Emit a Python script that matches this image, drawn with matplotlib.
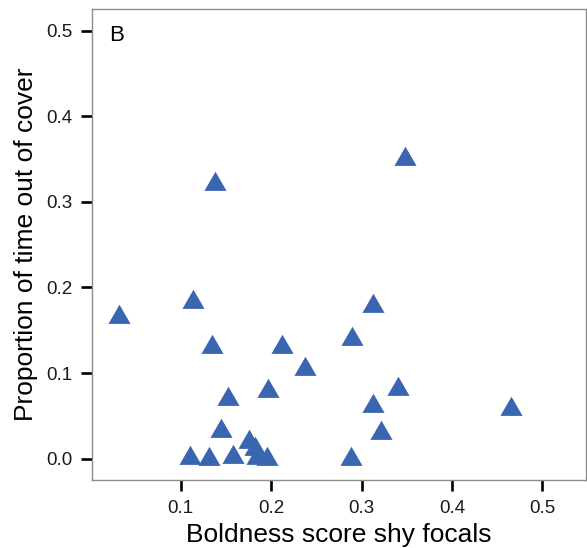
"""
Boldness score of shy focals vs proportion of time out of cover (panel B)
"""

import matplotlib.pyplot as plt
from matplotlib.path import Path

plt.rcParams['font.family'] = ['Liberation Sans', 'DejaVu Sans']

# data (centroid of each triangle)
boldness = [0.032, 0.114, 0.135, 0.152, 0.197, 0.145, 0.176, 0.182,
            0.110, 0.131, 0.158, 0.184, 0.196, 0.212, 0.237, 0.313,
            0.290, 0.340, 0.313, 0.321, 0.288, 0.465, 0.138, 0.348]
time_out = [0.166, 0.183, 0.131, 0.070, 0.079, 0.032, 0.019, 0.011,
            0.001, 0.000, 0.002, 0.001, 0.000, 0.131, 0.105, 0.178,
            0.140, 0.081, 0.062, 0.030, 0.000, 0.058, 0.321, 0.350]

x_ticks = [0.1, 0.2, 0.3, 0.4, 0.5]
y_ticks = [0.0, 0.1, 0.2, 0.3, 0.4, 0.5]

# R-style filled triangle, centred on its centroid
triangle = Path([(0, 1), (-0.866, -0.5), (0.866, -0.5), (0, 1)],
                [Path.MOVETO, Path.LINETO, Path.LINETO, Path.CLOSEPOLY])

fig = plt.figure(figsize=(5.87, 5.48), dpi=100)
ax = fig.add_axes([0.1567, 0.124, 0.8413, 0.859])

ax.plot(boldness, time_out, linestyle='none', marker=triangle,
        markersize=18.4, markerfacecolor='#3A65B0', markeredgewidth=0,
        clip_on=False)

ax.set_xlim(0.002, 0.548)
ax.set_ylim(-0.025, 0.525)
ax.set_xticks(x_ticks)
ax.set_yticks(y_ticks)
ax.set_xticklabels([f'{t:.1f}' for t in x_ticks])
ax.set_yticklabels([f'{t:.1f}' for t in y_ticks])

ax.tick_params(axis='both', direction='out', length=7.7, width=1.9,
               color='black', labelsize=13.5, labelcolor='#1a1a1a')
ax.tick_params(axis='x', pad=7)
ax.tick_params(axis='y', pad=6.5)

for side in ['left', 'right', 'top', 'bottom']:
    ax.spines[side].set_color('#8c8c8c')
    ax.spines[side].set_linewidth(1.0)

ax.set_xlabel('Boldness score shy focals', fontsize=19, labelpad=4)
ax.set_ylabel('Proportion of time out of cover', fontsize=19, labelpad=6)

ax.text(0.034, 0.945, 'B', transform=ax.transAxes, fontsize=16,
        ha='left', va='center')

plt.savefig('out.png', dpi=100, facecolor='white')
plt.close()
